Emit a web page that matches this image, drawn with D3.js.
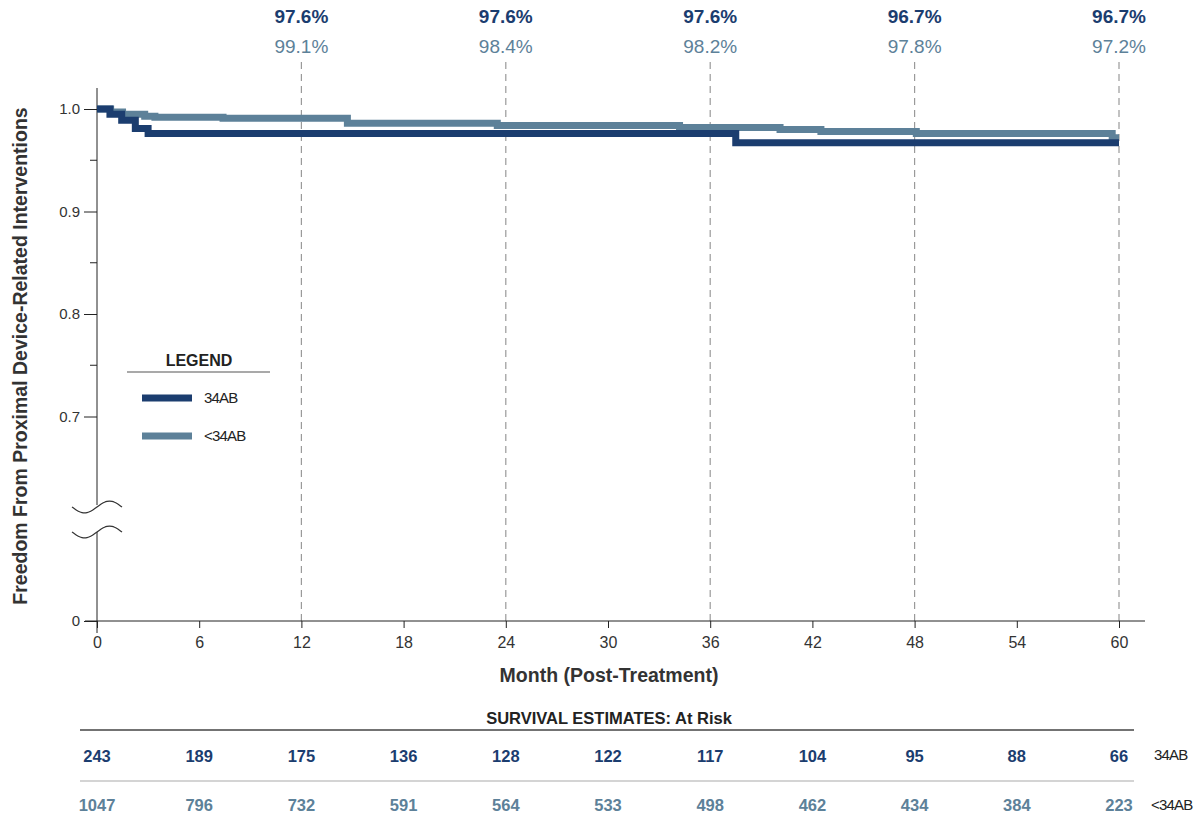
<!DOCTYPE html>
<html>
<head>
<meta charset="utf-8">
<script src="https://cdn.jsdelivr.net/npm/d3@7"></script>
<style>
  body { margin: 0; background: #fff; }
  .chart text { font-family: "Liberation Sans", Arial, sans-serif; }
</style>
</head>
<body>
<div class="chart"></div>
<script>
// 数据
var monthTicks = [0, 6, 12, 18, 24, 30, 36, 42, 48, 54, 60];
var yMajorTicks = [0, 0.7, 0.8, 0.9, 1.0];
var yMinorTicks = [0.75, 0.85, 0.95];
var markMonths = [12, 24, 36, 48, 60];
var markBig = ["97.6%", "97.6%", "97.6%", "96.7%", "96.7%"];
var markSmall = ["99.1%", "98.4%", "98.2%", "97.8%", "97.2%"];
var seriesNames = ["34AB", "<34AB"];
var bigSteps = [
  [0, 1.0], [0.76, 0.995], [1.45, 0.989], [2.25, 0.981], [3.0, 0.976],
  [37.5, 0.967], [60, 0.967]
];
var smallSteps = [
  [0, 1.0], [0.8, 0.997], [1.5, 0.995], [2.8, 0.993], [3.4, 0.992], [7.4, 0.991],
  [14.7, 0.986], [23.5, 0.984], [34.2, 0.982], [40.1, 0.980], [42.5, 0.978],
  [48.1, 0.976], [59.6, 0.972], [60, 0.972]
];
var riskBig = [243, 189, 175, 136, 128, 122, 117, 104, 95, 88, 66];
var riskSmall = [1047, 796, 732, 591, 564, 533, 498, 462, 434, 384, 223];

var cDark = "#1b3d6f";
var cLight = "#5d8199";

var svg = d3.select(".chart").append("svg")
  .attr("width", 1196)
  .attr("height", 829);

// 比例尺
var x = d3.scaleLinear().domain([0, 60]).range([97, 1119]);
var y = d3.scaleLinear().domain([0, 0.6, 1.0]).range([621, 519, 109]);

// 虚线
svg.append("g").selectAll("line").data(markMonths).enter().append("line")
  .attr("x1", d => x(d)).attr("x2", d => x(d))
  .attr("y1", 62).attr("y2", 621)
  .attr("stroke", "#9a9a9a").attr("stroke-width", 1.2)
  .attr("stroke-dasharray", "7,5");

// 顶部百分比
var topLabels = svg.append("g");
topLabels.selectAll(".mb").data(markMonths).enter().append("text")
  .attr("x", d => x(d)).attr("y", 23)
  .attr("text-anchor", "middle")
  .style("font-size", "19px").style("font-weight", "bold")
  .style("fill", cDark)
  .text((d, i) => markBig[i]);
topLabels.selectAll(".ms").data(markMonths).enter().append("text")
  .attr("x", d => x(d)).attr("y", 53)
  .attr("text-anchor", "middle")
  .style("font-size", "19px")
  .style("fill", cLight)
  .text((d, i) => markSmall[i]);

// X轴
var xAxis = svg.append("g")
  .attr("transform", "translate(0,621)")
  .call(d3.axisBottom(x).tickValues(monthTicks).tickSize(7).tickSizeOuter(0));
xAxis.select(".domain").remove();
xAxis.append("line").attr("x1", 85).attr("x2", 1145).attr("stroke", "#222");
xAxis.selectAll(".tick line").attr("stroke", "#222");
xAxis.selectAll(".tick text").attr("y", 11).attr("dy", "1.0em")
  .style("font-size", "16px").style("fill", "#333").style("font-family", "Liberation Sans, Arial, sans-serif");

// Y轴
var yAxis = svg.append("g")
  .attr("transform", "translate(97,0)")
  .call(d3.axisLeft(y).tickValues(yMajorTicks).tickSize(13).tickSizeOuter(0)
    .tickFormat(d => d === 0 ? "0" : d3.format(".1f")(d)));
yAxis.select(".domain").remove();
yAxis.selectAll(".tick line").attr("stroke", "#222");
yAxis.selectAll(".tick text").attr("x", -17)
  .style("font-size", "15px").style("fill", "#333").style("font-family", "Liberation Sans, Arial, sans-serif");
yAxis.selectAll(".minor").data(yMinorTicks).enter().append("line")
  .attr("x1", -7).attr("x2", 0)
  .attr("y1", d => y(d)).attr("y2", d => y(d))
  .attr("stroke", "#222");
yAxis.append("line").attr("x1", 0).attr("x2", 0).attr("y1", 88).attr("y2", 505).attr("stroke", "#222");
yAxis.append("line").attr("x1", 0).attr("x2", 0).attr("y1", 532).attr("y2", 633).attr("stroke", "#222");

// 断轴符号
[507, 532].forEach(function (cy) {
  var pts = d3.range(0, 1.0001, 0.05).map(t => [-25 + 50 * t, cy + 6 * Math.sin(t * 2 * Math.PI)]);
  yAxis.append("path")
    .attr("d", d3.line().curve(d3.curveBasis)(pts))
    .attr("fill", "none").attr("stroke", "#333").attr("stroke-width", 1.2);
});

// 轴标题
svg.append("text")
  .attr("x", 609).attr("y", 682)
  .attr("text-anchor", "middle")
  .style("font-size", "19.5px").style("font-weight", "bold").style("fill", "#333")
  .text("Month (Post-Treatment)");
svg.append("text")
  .attr("transform", "translate(27,356) rotate(-90)")
  .attr("text-anchor", "middle")
  .style("font-size", "19.5px").style("font-weight", "bold").style("fill", "#333")
  .text("Freedom From Proximal Device-Related Interventions");

// 曲线
var line = d3.line().x(d => x(d[0])).y(d => y(d[1])).curve(d3.curveStepAfter);
svg.append("path").datum(smallSteps)
  .attr("d", line).attr("fill", "none")
  .attr("stroke", cLight).attr("stroke-width", 7);
svg.append("path").datum(bigSteps)
  .attr("d", line).attr("fill", "none")
  .attr("stroke", cDark).attr("stroke-width", 7);

// 图例
var lg = svg.append("g");
lg.append("text").attr("x", 199).attr("y", 366).attr("text-anchor", "middle")
  .style("font-size", "16px").style("font-weight", "bold").style("fill", "#222")
  .text("LEGEND");
lg.append("line").attr("x1", 127).attr("x2", 270).attr("y1", 372).attr("y2", 372)
  .attr("stroke", "#555").attr("stroke-width", 1.2);
lg.selectAll(".ll").data(seriesNames).enter().append("line")
  .attr("x1", 142).attr("x2", 192)
  .attr("y1", (d, i) => 398 + i * 38).attr("y2", (d, i) => 398 + i * 38)
  .attr("stroke", (d, i) => i === 0 ? cDark : cLight).attr("stroke-width", 7);
lg.selectAll(".lt").data(seriesNames).enter().append("text")
  .attr("x", 204).attr("y", (d, i) => 403 + i * 38)
  .style("font-size", "15px").style("letter-spacing", "-0.8px").style("fill", "#222")
  .text(d => d);

// 风险表
var tb = svg.append("g");
tb.append("text").attr("x", 609).attr("y", 724).attr("text-anchor", "middle")
  .style("font-size", "16.5px").style("font-weight", "bold").style("fill", "#222")
  .text("SURVIVAL ESTIMATES: At Risk");
tb.append("line").attr("x1", 80).attr("x2", 1134).attr("y1", 730).attr("y2", 730)
  .attr("stroke", "#444").attr("stroke-width", 1.5);
tb.append("line").attr("x1", 80).attr("x2", 1134).attr("y1", 781).attr("y2", 781)
  .attr("stroke", "#aaa").attr("stroke-width", 1.2);
tb.selectAll(".r1").data(riskBig).enter().append("text")
  .attr("x", (d, i) => x(monthTicks[i])).attr("y", 762)
  .attr("text-anchor", "middle")
  .style("font-size", "16.5px").style("font-weight", "bold").style("fill", cDark)
  .text(d => d);
tb.selectAll(".r2").data(riskSmall).enter().append("text")
  .attr("x", (d, i) => x(monthTicks[i])).attr("y", 811)
  .attr("text-anchor", "middle")
  .style("font-size", "16.5px").style("font-weight", "bold").style("fill", cLight)
  .text(d => d);
tb.selectAll(".rl").data(seriesNames).enter().append("text")
  .attr("x", (d, i) => i === 0 ? 1154 : 1151).attr("y", (d, i) => i === 0 ? 760 : 810)
  .style("font-size", "15px").style("letter-spacing", "-0.8px").style("fill", "#222")
  .text(d => d);
</script>
</body>
</html>
